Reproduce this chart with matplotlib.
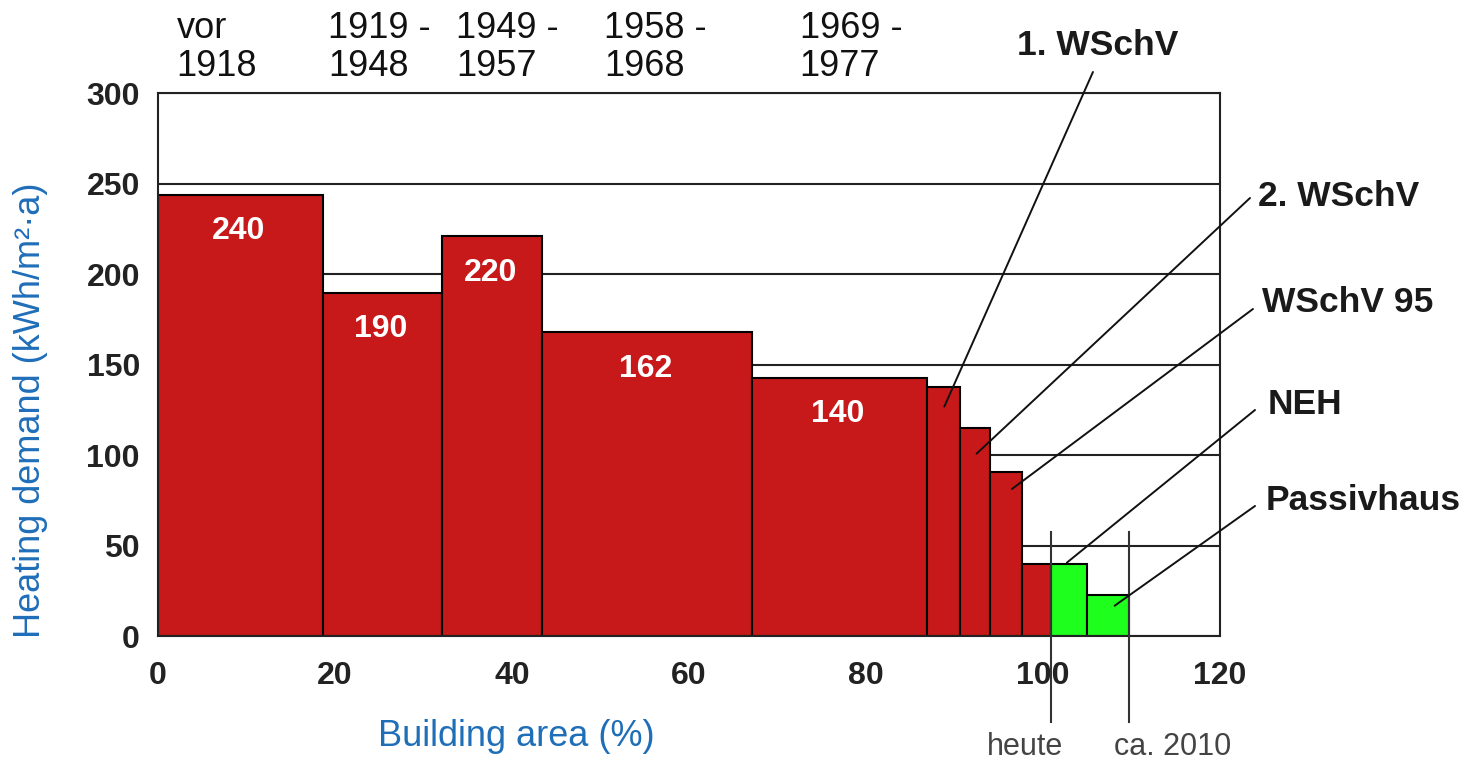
import matplotlib
matplotlib.use("Agg")
import matplotlib.pyplot as plt
import matplotlib.transforms as mtransforms

plt.rcParams['font.family'] = ['Liberation Sans', 'DejaVu Sans']

# ---- data ----
edges = [0, 18.6, 32.1, 43.4, 67.1, 86.9, 90.6, 94.0, 97.6, 100.9, 105.0, 109.7]
heights = [244, 190, 221, 168, 143, 138, 115, 91, 40, 40, 23]
bar_kind = ['old'] * 9 + ['new'] * 2
bar_labels = ['240', '190', '220', '162', '140']
periods = ['vor\n1918', '1919 -\n1948', '1949 -\n1957', '1958 -\n1968', '1969 -\n1977']
period_x = [2.1, 19.2, 33.7, 50.4, 72.5]
standards = ['1. WSchV', '2. WSchV', 'WSchV 95', 'NEH', 'Passivhaus']
standard_targets = [(88.85, 127), (92.5, 101), (96.5, 81.5), (102.7, 40.8), (108.1, 17)]
marker_x = [100.9, 109.7]
marker_labels = ['heute', 'ca. 2010']
marker_label_x = [98.0, 114.6]
xticks = [0, 20, 40, 60, 80, 100, 120]
yticks = [0, 50, 100, 150, 200, 250, 300]

RED = '#C8191A'
GREEN = '#1EFF1E'
BLUE = '#1F6EB8'

fig = plt.figure(figsize=(14.72, 7.65), dpi=100)
ax = fig.add_axes([0.1073, 0.168, 0.7215, 0.7098])

widths = [edges[i + 1] - edges[i] for i in range(len(heights))]
colors = [RED if k == 'old' else GREEN for k in bar_kind]
ax.bar(edges[:-1], heights, width=widths, align='edge', color=colors,
       edgecolor='black', linewidth=1.5, zorder=2)

for i, lab in enumerate(bar_labels):
    cx = edges[i] + widths[i] / 2
    ax.annotate(lab, xy=(cx, heights[i]), xytext=(-1, -26), textcoords='offset points',
                ha='center', va='center', color='white', fontsize=23, fontweight='bold', zorder=3)

ax.set_xlim(0, 120)
ax.set_ylim(0, 300)
ax.set_xticks(xticks)
ax.set_yticks(yticks)
ax.set_xticklabels([str(t) for t in xticks], fontsize=23, fontweight='bold', color='#222222')
ax.set_yticklabels([str(t) for t in yticks], fontsize=23, fontweight='bold', color='#222222')
ax.tick_params(axis='both', length=0)
ax.tick_params(axis='y', pad=13)
ax.tick_params(axis='x', pad=18)
ax.yaxis.grid(True, color='#222222', linewidth=1.5)
ax.xaxis.grid(False)
ax.set_axisbelow(True)
for s in ax.spines.values():
    s.set_color('#222222')
    s.set_linewidth(1.5)

# vertical marker lines below the axis
for xm, lab, lx in zip(marker_x, marker_labels, marker_label_x):
    ax.plot([xm, xm], [-47, 58], color='#333333', linewidth=1.5, clip_on=False, zorder=4)
    ax.text(lx, -61, lab, ha='center', va='center', fontsize=22, color='#444444', clip_on=False)

# period labels at the top
trans = mtransforms.blended_transform_factory(ax.transData, fig.transFigure)
for px, lab in zip(period_x, periods):
    fig.text(px, 0.985, lab, transform=trans, ha='left', va='top', fontsize=26,
             color='#111111', linespacing=1.08)

# standards annotations
text_pos = [(0.746, 0.941, 'center'), (0.8546, 0.7425, 'left'), (0.8573, 0.6052, 'left'),
            (0.8614, 0.4706, 'left'), (0.8601, 0.3464, 'left')]
line_start = [(0.7425, 0.9059), (0.8492, 0.7412), (0.8512, 0.5961), (0.8526, 0.4641), (0.8526, 0.3386)]
for name, tgt, tp, ls in zip(standards, standard_targets, text_pos, line_start):
    ax.annotate('', xy=tgt, xycoords='data', xytext=ls, textcoords='figure fraction',
                arrowprops=dict(arrowstyle='-', lw=1.4, color='#111111', shrinkA=0, shrinkB=0),
                zorder=5, annotation_clip=False)
    fig.text(tp[0], tp[1], name, ha=tp[2], va='center', fontsize=25.5, fontweight='bold', color='#1a1a1a')

fig.text(0.0204, 0.464, 'Heating demand (kWh/m²·a)', rotation=90, ha='center', va='center',
         fontsize=26, color=BLUE)
fig.text(0.351, 0.037, 'Building area (%)', ha='center', va='center', fontsize=26, color=BLUE)

fig.savefig('out.png', dpi=100, facecolor='white')
